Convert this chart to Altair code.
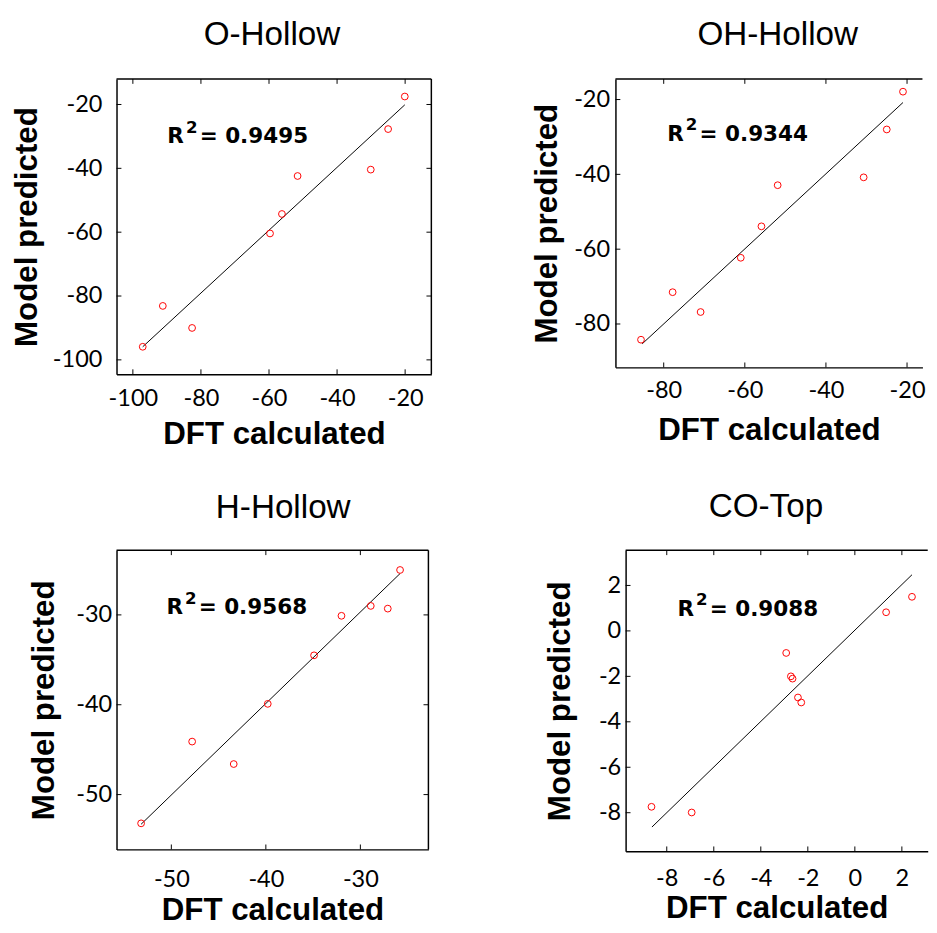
import altair as alt
import pandas as pd

# ---------------- data ----------------
titles = ["O-Hollow", "OH-Hollow", "H-Hollow", "CO-Top"]
r2_values = ["0.9495", "0.9344", "0.9568", "0.9088"]

o_dft = [-97.1, -91.2, -82.6, -59.7, -56.2, -51.6, -30.1, -25.0, -20.1]
o_pred = [-95.9, -83.1, -90.0, -60.4, -54.3, -42.4, -40.4, -27.7, -17.5]
o_fit_x = [-97.1, -20.1]
o_fit_y = [-95.9, -20.1]
o_ticks = [-100, -80, -60, -40, -20]

oh_dft = [-85.6, -77.8, -70.9, -61.0, -55.9, -51.9, -30.7, -25.0, -21.0]
oh_pred = [-84.2, -71.5, -76.8, -62.3, -53.9, -42.9, -40.8, -28.0, -17.9]
oh_fit_x = [-85.3, -21.0]
oh_fit_y = [-85.3, -20.8]
oh_ticks = [-80, -60, -40, -20]

h_dft = [-53.2, -47.8, -43.4, -39.8, -34.9, -32.0, -28.9, -27.1, -25.8]
h_pred = [-53.2, -44.1, -46.6, -39.9, -34.5, -30.1, -29.0, -29.3, -25.0]
h_fit_x = [-53.2, -25.8]
h_fit_y = [-53.3, -25.4]
h_ticks = [-50, -40, -30]

co_dft = [-8.65, -6.94, -2.92, -2.72, -2.65, -2.42, -2.28, 1.33, 2.43]
co_pred = [-7.74, -7.99, -0.97, -2.00, -2.10, -2.93, -3.15, 0.82, 1.50]
co_fit_x = [-8.63, 2.43]
co_fit_y = [-8.63, 2.47]
co_ticks = [-8, -6, -4, -2, 0, 2]

HYPHEN = "'' + datum.value"


def panel(title, dft, pred, fit_x, fit_y, ticks, xdom, ydom, r2, w, h,
          ylp, ytp, xlp, xtp, toff, tdx, rpos, right_edge, phantom=None):
    pts = pd.DataFrame({"dft": dft, "pred": pred})
    fit = pd.DataFrame({"dft": fit_x, "pred": fit_y})
    tk = pd.DataFrame({"dft": ticks, "pred": ticks})
    one = pd.DataFrame({"k": [0]})
    xs = alt.Scale(domain=xdom, nice=False, zero=False)
    ys = alt.Scale(domain=ydom, nice=False, zero=False)
    xaxis = alt.Axis(title="DFT calculated", values=ticks, ticks=False,
                     grid=False, labelPadding=xlp, titlePadding=xtp,
                     labelFlush=False, labelOverlap=False, labelExpr=HYPHEN)
    yaxis = alt.Axis(title="Model predicted", values=ticks, ticks=False,
                     grid=False, labelPadding=ylp, titlePadding=ytp,
                     labelFlush=False, labelOverlap=False, labelExpr=HYPHEN)
    X = alt.X("dft:Q", scale=xs, axis=xaxis)
    Y = alt.Y("pred:Q", scale=ys, axis=yaxis)

    line = alt.Chart(fit).mark_line(color="black", strokeWidth=1).encode(x=X, y=Y)
    points = alt.Chart(pts).mark_point(
        shape="circle", filled=False, color="#ff0000", size=48, strokeWidth=1,
        opacity=1,
    ).encode(x=X, y=Y)
    tick_b = alt.Chart(tk).mark_rule(color="black", strokeWidth=1).encode(
        x=X, y=alt.value(h), y2=alt.value(h - 5))
    tick_t = alt.Chart(tk).mark_rule(color="black", strokeWidth=1).encode(
        x=X, y=alt.value(0), y2=alt.value(5))
    tick_l = alt.Chart(tk).mark_rule(color="black", strokeWidth=1).encode(
        y=Y, x=alt.value(0), x2=alt.value(5))
    top = alt.Chart(one).mark_rule(color="black", strokeWidth=1.5).encode(
        x=alt.value(0), x2=alt.value(w), y=alt.value(0))

    layers = [line, points, tick_b, tick_t, tick_l, top]
    if right_edge:
        tick_r = alt.Chart(tk).mark_rule(color="black", strokeWidth=1).encode(
            y=Y, x=alt.value(w), x2=alt.value(w - 5))
        redge = alt.Chart(one).mark_rule(color="black", strokeWidth=1.5).encode(
            x=alt.value(w), y=alt.value(0), y2=alt.value(h))
        layers += [tick_r, redge]
    if phantom is not None:
        layers.append(alt.Chart(one).mark_rule(opacity=0, strokeWidth=0.1).encode(
            x=alt.value(phantom), y=alt.value(h / 2), y2=alt.value(h / 2 + 1)))

    tx, ty = rpos
    f = "DejaVu Sans"
    t_r = alt.Chart(one).mark_text(text="R", font=f, fontWeight="bold",
                                   fontSize=22, align="left", baseline="alphabetic",
                                   color="black").encode(x=alt.value(tx - 2), y=alt.value(ty))
    t_2 = alt.Chart(one).mark_text(text="2", font=f, fontWeight="bold",
                                   fontSize=17, align="left", baseline="alphabetic",
                                   color="black").encode(x=alt.value(tx + 17), y=alt.value(ty - 10.5))
    t_v = alt.Chart(one).mark_text(text="= " + r2, font=f, fontWeight="bold",
                                   fontSize=22, align="left", baseline="alphabetic",
                                   color="black").encode(x=alt.value(tx + 31), y=alt.value(ty))
    layers += [t_r, t_2, t_v]

    return alt.layer(*layers).properties(
        width=w, height=h,
        title=alt.TitleParams(title, fontSize=34, font="Liberation Sans",
                              fontWeight="normal", color="black", offset=toff,
                              dx=tdx),
        view=alt.ViewBackground(stroke=None),
    )


p1 = panel(titles[0], o_dft, o_pred, o_fit_x, o_fit_y, o_ticks,
           [-104.8, -12.3], [-104.5, -12.0], r2_values[0], 322, 302,
           15, 8.7, 13, 9, 26.5, -2, (54, 66), True)
p2 = panel(titles[1], oh_dft, oh_pred, oh_fit_x, oh_fit_y, oh_ticks,
           [-91.9, -16.2], [-91.6, -14.5], r2_values[1], 314, 295,
           6, 10.7, 12, 12.8, 26.5, 9, (55, 63), False)
p3 = panel(titles[2], h_dft, h_pred, h_fit_x, h_fit_y, h_ticks,
           [-55.8, -22.8], [-56.1, -22.8], r2_values[2], 319, 306,
           5, 16, 19, 4, 25, 11, (53, 65), True, phantom=-101.3)
p4 = panel(titles[3], co_dft, co_pred, co_fit_x, co_fit_y, co_ticks,
           [-9.75, 3.1], [-9.7, 3.55], r2_values[3], 309, 308,
           5, 22.7, 15.5, 3, 26.5, -11, (55, 67), False)

chart = alt.vconcat(
    alt.hconcat(p1, p2, spacing=100.3),
    alt.hconcat(p3, p4, spacing=116.7),
    spacing=41,
).properties(
    padding={"left": 3, "top": 0, "right": 0, "bottom": 0},
    autosize=alt.AutoSizeParams(type="pad"),
).configure_axis(
    labelFont="Lato", labelFontSize=24, labelColor="black",
    titleFont="Liberation Sans", titleFontSize=32, titleFontWeight="bold",
    titleColor="black", domainColor="black", domainWidth=1.5,
).configure_view(stroke=None)

chart.save("out.html", embed_options={"renderer": "svg", "actions": False})
